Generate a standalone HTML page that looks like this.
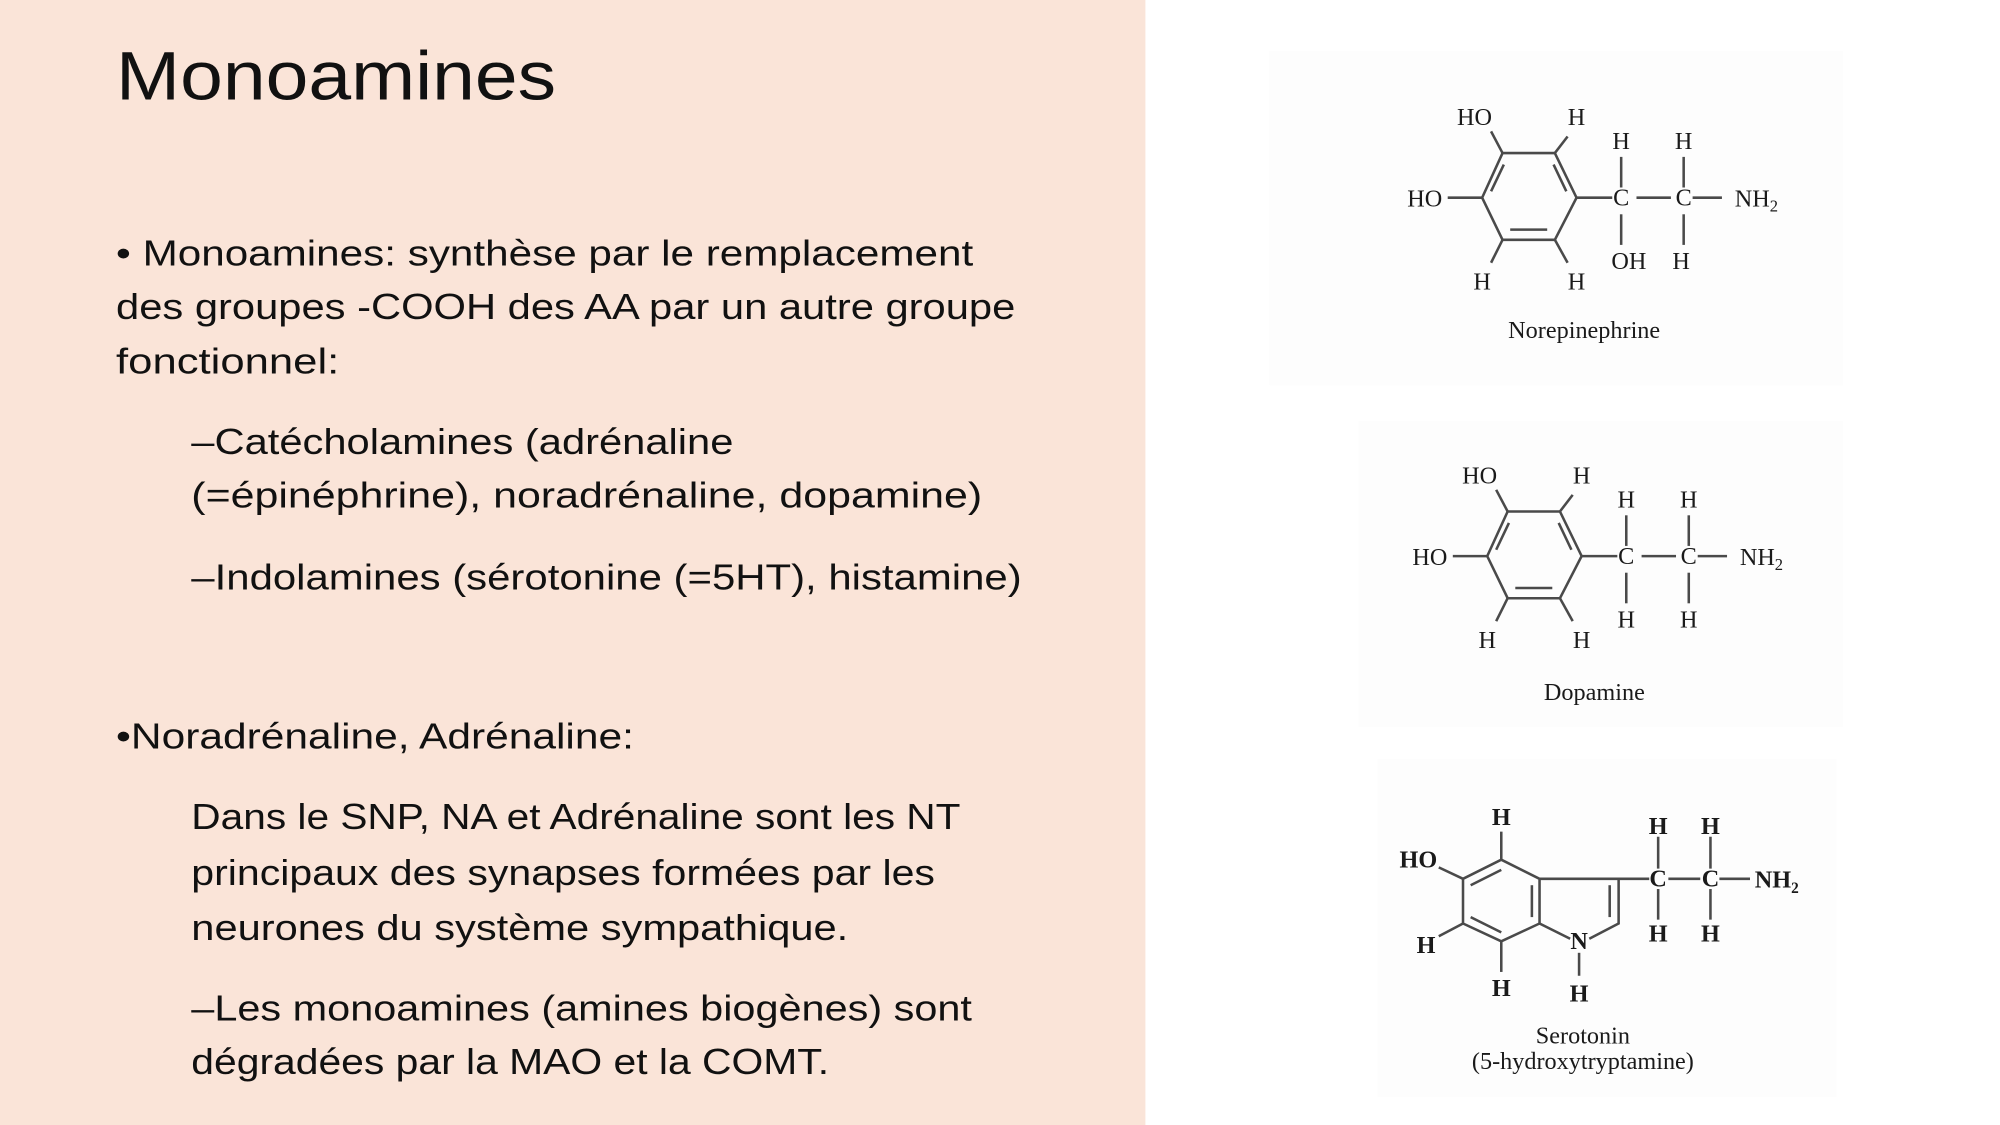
<!DOCTYPE html>
<html><head><meta charset="utf-8"><style>
html,body{margin:0;padding:0;background:#fff;}
svg{display:block;}
.t{font-family:"Liberation Sans",sans-serif;fill:#111;}
.a{font-family:"Liberation Serif",serif;fill:#1a1a1a;font-size:19px;text-anchor:middle;}
.b{stroke:#4a4a4a;stroke-width:2;fill:none;}
</style></head><body>
<svg width="2000" height="1125" viewBox="0 0 1568 882" xmlns="http://www.w3.org/2000/svg">
<rect x="0" y="0" width="1568" height="882" fill="#fff"/>
<rect x="0" y="0" width="898" height="882" fill="#FAE4D8"/>
<rect x="995" y="40" width="450" height="262" fill="#fdfdfd"/>
<rect x="1065" y="330" width="380" height="240" fill="#fdfdfd"/>
<rect x="1080" y="595" width="360" height="265" fill="#fdfdfd"/>

<text class="t" x="91" y="78" font-size="54" textLength="345" lengthAdjust="spacingAndGlyphs">Monoamines</text>
<g class="t" font-size="28">
<text x="91" y="208" textLength="672" lengthAdjust="spacingAndGlyphs">• Monoamines: synthèse par le remplacement</text>
<text x="91" y="250" textLength="705" lengthAdjust="spacingAndGlyphs">des groupes -COOH des AA par   un autre groupe</text>
<text x="91" y="293" textLength="175" lengthAdjust="spacingAndGlyphs">fonctionnel:</text>
<text x="150" y="356" textLength="425" lengthAdjust="spacingAndGlyphs">–Catécholamines (adrénaline</text>
<text x="150" y="398" textLength="620" lengthAdjust="spacingAndGlyphs">(=épinéphrine), noradrénaline,  dopamine)</text>
<text x="150" y="462" textLength="651" lengthAdjust="spacingAndGlyphs">–Indolamines (sérotonine (=5HT), histamine)</text>
<text x="91" y="587" textLength="406" lengthAdjust="spacingAndGlyphs">•Noradrénaline, Adrénaline:</text>
<text x="150" y="650" textLength="603" lengthAdjust="spacingAndGlyphs">Dans le SNP, NA et Adrénaline sont les NT</text>
<text x="150" y="694" textLength="583" lengthAdjust="spacingAndGlyphs">principaux des synapses formées par les</text>
<text x="150" y="737" textLength="515" lengthAdjust="spacingAndGlyphs">neurones du système sympathique.</text>
<text x="150" y="800" textLength="612" lengthAdjust="spacingAndGlyphs">–Les monoamines (amines biogènes) sont</text>
<text x="150" y="842" textLength="500" lengthAdjust="spacingAndGlyphs">dégradées par la MAO et la COMT.</text>
</g>

<!-- Dopamine -->
<g id="dopa">
<polygon class="b" points="1182,401 1223,401 1240,436 1223,469 1182,469 1166,436"/>
<line class="b" x1="1183" y1="410" x2="1173" y2="431"/>
<line class="b" x1="1222" y1="410" x2="1232" y2="431"/>
<line class="b" x1="1188" y1="461" x2="1217" y2="461"/>
<line class="b" x1="1173" y1="384" x2="1182" y2="401"/>
<line class="b" x1="1233" y1="388" x2="1223" y2="401"/>
<line class="b" x1="1139" y1="436" x2="1166" y2="436"/>
<line class="b" x1="1182" y1="469" x2="1173" y2="487"/>
<line class="b" x1="1223" y1="469" x2="1233" y2="487"/>
<line class="b" x1="1240" y1="436" x2="1268" y2="436"/>
<line class="b" x1="1287" y1="436" x2="1314" y2="436"/>
<line class="b" x1="1331" y1="436" x2="1354" y2="436"/>
<line class="b" x1="1275" y1="404" x2="1275" y2="428"/>
<line class="b" x1="1324" y1="404" x2="1324" y2="428"/>
<line class="b" x1="1275" y1="449" x2="1275" y2="473"/>
<line class="b" x1="1324" y1="449" x2="1324" y2="473"/>
<text class="a" x="1160" y="379">HO</text>
<text class="a" x="1240" y="379">H</text>
<text class="a" x="1121" y="443">HO</text>
<text class="a" x="1275" y="442">C</text>
<text class="a" x="1324" y="442">C</text>
<text class="a" x="1381" y="443">NH<tspan font-size="13" dy="4">2</tspan></text>
<text class="a" x="1275" y="398">H</text>
<text class="a" x="1324" y="398">H</text>
<text class="a" x="1166" y="508">H</text>
<text class="a" x="1240" y="508">H</text>
</g>
<text class="a" x="1250" y="549" font-size="19">Dopamine</text>
<text class="a" x="1275" y="492">H</text>
<text class="a" x="1324" y="492">H</text>

<!-- Norepinephrine -->
<use href="#dopa" transform="translate(-4,-281)"/>
<text class="a" x="1277" y="211">OH</text>
<text class="a" x="1318" y="211">H</text>
<text class="a" x="1242" y="265" font-size="19">Norepinephrine</text>

<!-- Serotonin -->
<g>
<polygon class="b" points="1177,674 1207,689 1207,724 1177,738 1147,724 1147,689"/>
<line class="b" x1="1177" y1="682" x2="1153" y2="694"/>
<line class="b" x1="1201" y1="694" x2="1201" y2="719"/>
<line class="b" x1="1153" y1="719" x2="1177" y2="731"/>
<polyline class="b" points="1207,689 1269,689 1269,724 1246,736"/>
<line class="b" x1="1207" y1="724" x2="1231" y2="736"/>
<line class="b" x1="1262" y1="694" x2="1262" y2="719"/>
<line class="b" x1="1177" y1="674" x2="1177" y2="652"/>
<line class="b" x1="1147" y1="689" x2="1128" y2="680"/>
<line class="b" x1="1147" y1="724" x2="1128" y2="734"/>
<line class="b" x1="1177" y1="738" x2="1177" y2="762"/>
<line class="b" x1="1238" y1="747" x2="1238" y2="765"/>
<line class="b" x1="1269" y1="689" x2="1293" y2="689"/>
<line class="b" x1="1308" y1="689" x2="1333" y2="689"/>
<line class="b" x1="1348" y1="689" x2="1372" y2="689"/>
<line class="b" x1="1300" y1="656" x2="1300" y2="681"/>
<line class="b" x1="1341" y1="656" x2="1341" y2="681"/>
<line class="b" x1="1300" y1="697" x2="1300" y2="721"/>
<line class="b" x1="1341" y1="697" x2="1341" y2="721"/>
<g font-weight="bold">
<text class="a" x="1112" y="680" font-size="17">HO</text>
<text class="a" x="1177" y="647" font-size="17">H</text>
<text class="a" x="1118" y="747" font-size="17">H</text>
<text class="a" x="1177" y="781" font-size="17">H</text>
<text class="a" x="1238" y="744" font-size="17">N</text>
<text class="a" x="1238" y="785" font-size="17">H</text>
<text class="a" x="1300" y="695" font-size="17">C</text>
<text class="a" x="1341" y="695" font-size="17">C</text>
<text class="a" x="1393" y="696" font-size="17">NH<tspan font-size="12" dy="4">2</tspan></text>
<text class="a" x="1300" y="654" font-size="17">H</text>
<text class="a" x="1341" y="654" font-size="17">H</text>
<text class="a" x="1300" y="738" font-size="17">H</text>
<text class="a" x="1341" y="738" font-size="17">H</text>
</g>
<text class="a" x="1241" y="818" font-size="18">Serotonin</text>
<text class="a" x="1241" y="838" font-size="17">(5-hydroxytryptamine)</text>
</g>
</svg>
</body></html>
